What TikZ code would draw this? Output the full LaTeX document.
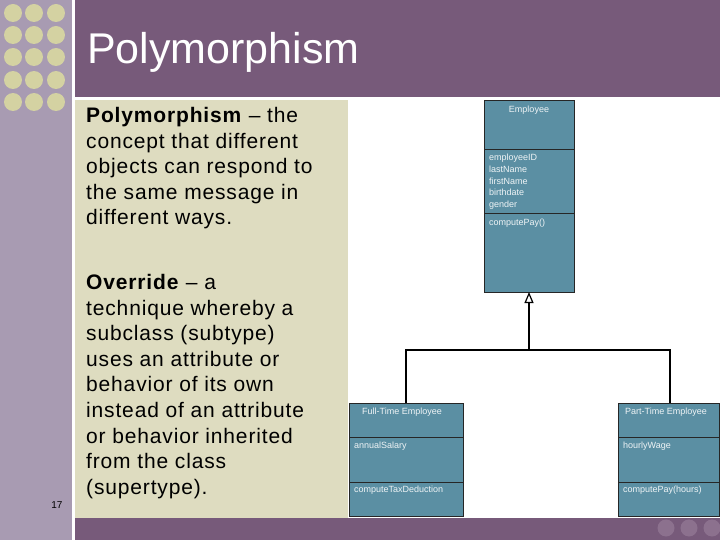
\documentclass[tikz,border=0pt]{standalone}
\usepackage{fontspec}
\setmainfont{Liberation Sans}
\newfontfamily\bodyfont[LetterSpace=4]{Liberation Sans}
\usetikzlibrary{arrows.meta}
\definecolor{titlep}{HTML}{775A7A}
\definecolor{stripp}{HTML}{A89BB2}
\definecolor{dotc}{HTML}{D4D2A2}
\definecolor{beige}{HTML}{DEDCC0}
\definecolor{umlc}{HTML}{5B8FA3}
\definecolor{botdot}{HTML}{8C718E}
\tikzset{
  dot/.style={circle,fill=dotc,minimum size=18pt,inner sep=0},
  bdot/.style={circle,fill=botdot,minimum size=17pt,inner sep=0},
  umltxt/.style={text=white!90!umlc,font=\fontsize{9}{11.7}\selectfont,inner sep=0,anchor=north west,align=left},
  umlbox/.style={fill=umlc,draw=black!85,line width=1pt},
  body/.style={font=\bodyfont\fontsize{21}{25.6}\selectfont,anchor=north west,align=left,inner sep=0}
}
\begin{document}
\begin{tikzpicture}[x=1pt,y=-1pt]
\useasboundingbox (0,0) rectangle (720,540);
\fill[white] (0,0) rectangle (720,540);
\fill[stripp] (0,0) rectangle (72,540);
\foreach \yy in {13,35,57,80,102} \foreach \xx in {13,34,56} \node[dot] at (\xx,\yy) {};
\fill[titlep] (75,0) rectangle (720,97);
\node[text=white,font=\fontsize{43}{48}\selectfont,anchor=west,inner sep=0] (title) at (87,52) {Polymorphism};
\fill[beige] (75,100) rectangle (348,518);
\fill[titlep] (75,518) rectangle (720,540);
\node[bdot] (b1) at (666,528) {};
\node[bdot] (b2) at (689,528) {};
\node[bdot] (b3) at (712,528) {};
\node[font=\fontsize{10}{11}\selectfont,inner sep=0] (num) at (57,505) {17};
\node[body] (t1) at (86,107) {\textbf{Polymorphism} – the\\concept that different\\objects can respond to\\the same message in\\different ways.};
\node[body] (t2) at (86,274) {\textbf{Override} – a\\technique whereby a\\subclass (subtype)\\uses an attribute or\\behavior of its own\\instead of an attribute\\or behavior inherited\\from the class\\(supertype).};
% Employee
\draw[umlbox] (484,101) rectangle (574,292);
\draw[black!85,line width=1pt] (484,150) -- (574,150) (484,214) -- (574,214);
\node[umltxt,anchor=north] (en) at (529,106) {Employee};
\node[umltxt] (ea) at (489,154) {employeeID\\lastName\\firstName\\birthdate\\gender};
\node[umltxt] (em) at (489,219) {computePay()};
\coordinate (etop) at (529,292);
% Full-time
\draw[umlbox] (349,403) rectangle (463,516);
\draw[black!85,line width=1pt] (349,437) -- (463,437) (349,482) -- (463,482);
\node[umltxt,anchor=north] (fn) at (402,408) {Full-Time Employee};
\node[umltxt] (fa) at (354,442) {annualSalary};
\node[umltxt] (fm) at (354,486) {computeTaxDeduction};
\coordinate (ftop) at (406,403);
% Part-time
\draw[umlbox] (618,403) rectangle (719,516);
\draw[black!85,line width=1pt] (618,437) -- (719,437) (618,482) -- (719,482);
\node[umltxt,anchor=north] (pn) at (666,408) {Part-Time Employee};
\node[umltxt] (pa) at (623,442) {hourlyWage};
\node[umltxt] (pm) at (623,486) {computePay(hours)};
\coordinate (ptop) at (670,403);
\coordinate (j) at (529,350);
\draw[line width=1.2pt] (ftop) -- (406,350) -- (670,350) -- (ptop);
\draw[line width=1.2pt,-{Triangle[open,length=11pt,width=9pt,fill=white]}] (j) -- (etop);
\end{tikzpicture}
\end{document}
